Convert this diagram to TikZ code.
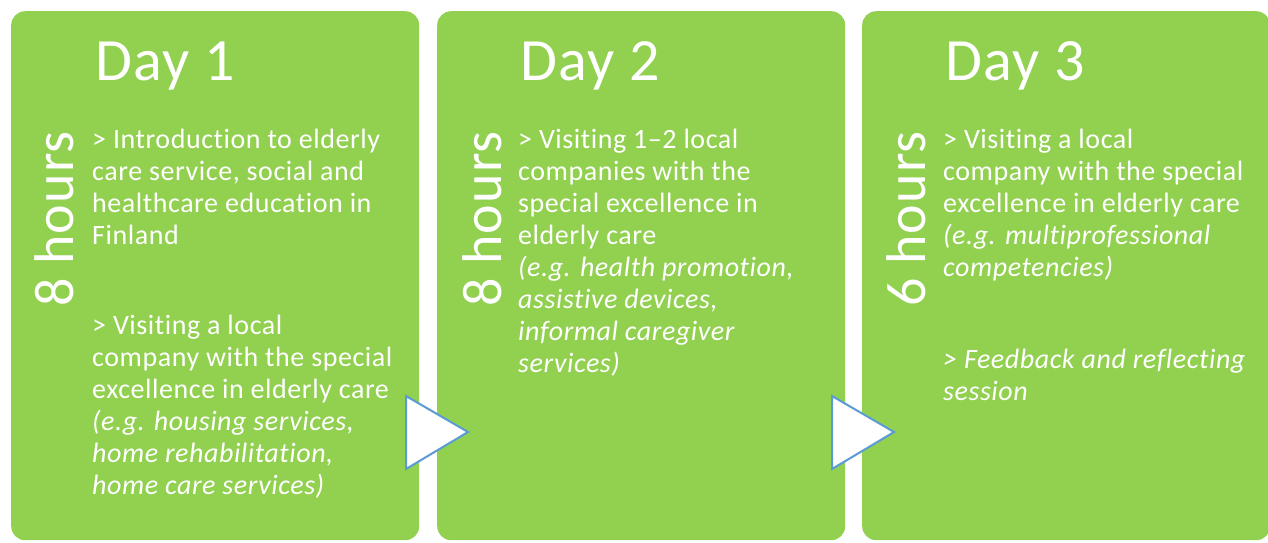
\documentclass[tikz,border=0pt]{standalone}
\usepackage{fontspec}
\setmainfont{Carlito}[Ligatures=NoCommon, LetterSpace=2]
\definecolor{panelgreen}{HTML}{92D050}
\definecolor{triblue}{HTML}{5B9BD5}
\begin{document}
\begin{tikzpicture}[x=1pt,y=-1pt,
  panel/.style={fill=panelgreen, draw=none, rounded corners=14pt, anchor=north west,
    minimum width=408pt, minimum height=529pt, inner sep=0pt},
  tri/.style={fill=white, draw=triblue, line width=2pt, line join=miter},
  daytitle/.style={anchor=base west, inner sep=0pt, text=white, font=\fontsize{60}{72}\selectfont},
  hourlabel/.style={anchor=base west, inner sep=0pt, text=white, rotate=90, font=\fontsize{56}{68}\selectfont},
  body/.style={anchor=base west, inner sep=0pt, text=white, font=\fontsize{28}{32}\selectfont}]
\clip (0,0) rectangle (1268,542);
\fill[white] (0,0) rectangle (1268,542);
% panels
\node[panel] (p1) at (11,11) {};
\node[panel] (p2) at (437,11) {};
\node[panel] (p3) at (862,11) {};
% titles
\node[daytitle] (t1) at (95,80) {Day 1};
\node[daytitle] (t2) at (520,80) {Day 2};
\node[daytitle] (t3) at (945,80) {Day 3};
% hours
\node[hourlabel] (h1) at (73,307) {8 hours};
\node[hourlabel] (h2) at (501,307) {8 hours};
\node[hourlabel] (h3) at (925,307) {6 hours};
% body texts
\node[body] (b1a) at (92,148) {\parbox[t]{330pt}{\raggedright > Introduction to elderly\\care service, social and\\healthcare education in\\Finland}};
\node[body] (b1b) at (92,334) {\parbox[t]{330pt}{\raggedright > Visiting a local\\company with the special\\excellence in elderly care\\{\itshape (e.g. housing services,\\home rehabilitation,\\home care services)}}};
\node[body] (b2a) at (518,148) {\parbox[t]{330pt}{\raggedright > Visiting 1–2 local\\companies with the\\special excellence in\\elderly care\\{\itshape (e.g. health promotion,\\assistive devices,\\informal caregiver\\services)}}};
\node[body] (b3a) at (943,148) {\parbox[t]{330pt}{\raggedright > Visiting a local\\company with the special\\excellence in elderly care\\{\itshape (e.g. multiprofessional\\competencies)}}};
\node[body] (b3b) at (943,368) {\parbox[t]{330pt}{\raggedright\itshape > Feedback and reflecting\\session}};
% triangles
\draw[tri] (406,396) -- (468,432) -- (406,469) -- cycle;
\draw[tri] (832,396) -- (894,432) -- (832,469) -- cycle;
\end{tikzpicture}
\end{document}
